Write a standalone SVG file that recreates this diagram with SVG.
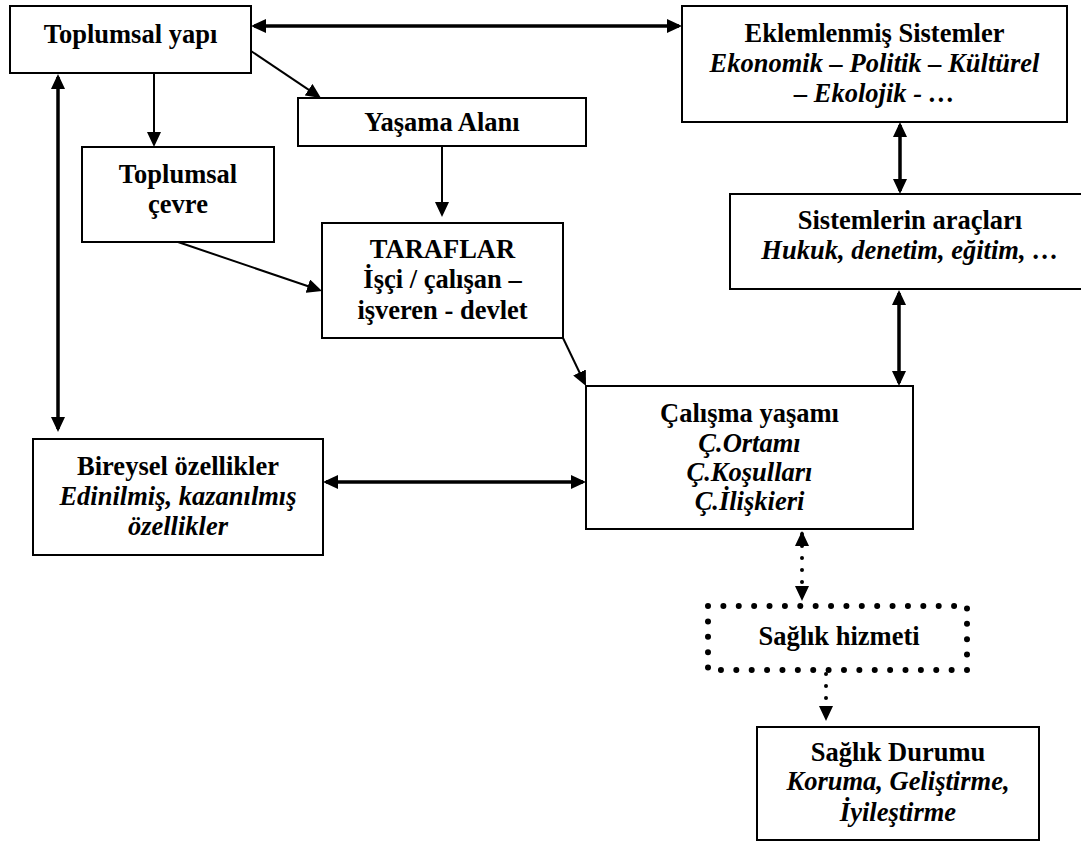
<svg xmlns="http://www.w3.org/2000/svg" width="1081" height="842" viewBox="0 0 1081 842">
<style>
  .box { fill: #ffffff; stroke: #000000; stroke-width: 2; }
  .dotbox { fill: none; stroke: #000000; stroke-width: 6; stroke-linecap: round; stroke-dasharray: 0 15.38; }
  .t { font-family: "Liberation Serif", "Times New Roman", serif; font-weight: bold; font-size: 26.5px; text-anchor: middle; fill: #000000; }
  .i { font-style: italic; }
  .thin { fill: none; stroke: #000000; stroke-width: 2; }
  .thick { fill: none; stroke: #000000; stroke-width: 3.5; }
  .dot { fill: none; stroke: #000000; stroke-width: 4; stroke-linecap: round; stroke-dasharray: 0 12; }
</style>
<defs>
  <marker id="ah" viewBox="0 0 15 14" markerWidth="15" markerHeight="14" refX="12" refY="7" markerUnits="userSpaceOnUse" orient="auto-start-reverse">
    <path d="M0,0 L15,7 L0,14 z" fill="#000000"/>
  </marker>
</defs>
<rect x="0" y="0" width="1081" height="842" fill="#ffffff"/>

<g id="connectors">
  <line class="thick" x1="254" y1="26" x2="679" y2="26" marker-start="url(#ah)" marker-end="url(#ah)"/>
  <line class="thin" x1="154" y1="73" x2="154" y2="144" marker-end="url(#ah)"/>
  <line class="thin" x1="251" y1="51" x2="318.5" y2="96.4" marker-end="url(#ah)"/>
  <line class="thick" x1="58" y1="77" x2="58" y2="429" marker-start="url(#ah)" marker-end="url(#ah)"/>
  <line class="thin" x1="442" y1="146" x2="442" y2="214" marker-end="url(#ah)"/>
  <line class="thin" x1="178" y1="242" x2="319.2" y2="290" marker-end="url(#ah)"/>
  <line class="thin" x1="563" y1="338" x2="584.7" y2="383.3" marker-end="url(#ah)"/>
  <line class="thick" x1="326" y1="482" x2="583" y2="482" marker-start="url(#ah)" marker-end="url(#ah)"/>
  <line class="thick" x1="900" y1="125" x2="900" y2="191" marker-start="url(#ah)" marker-end="url(#ah)"/>
  <line class="thick" x1="899" y1="293" x2="899" y2="383" marker-start="url(#ah)" marker-end="url(#ah)"/>
  <line class="dot" x1="802" y1="534" x2="802" y2="598" marker-start="url(#ah)" marker-end="url(#ah)"/>
  <line class="dot" x1="826" y1="674" x2="826" y2="718" marker-end="url(#ah)"/>
</g>

<g id="toplumsal-yapi">
  <rect class="box" x="10" y="6" width="241" height="67"/>
  <text class="t" x="130.5" y="43">Toplumsal yapı</text>
</g>

<g id="eklemlenmis-sistemler">
  <rect class="box" x="682" y="6" width="385" height="116"/>
  <text class="t" x="874.5" y="42">Eklemlenmiş Sistemler</text>
  <text class="t i" x="874.5" y="72">Ekonomik – Politik – Kültürel</text>
  <text class="t i" x="874.5" y="102">– Ekolojik - …</text>
</g>

<g id="yasama-alani">
  <rect class="box" x="298" y="98" width="288" height="48"/>
  <text class="t" x="442" y="131">Yaşama Alanı</text>
</g>

<g id="toplumsal-cevre">
  <rect class="box" x="82" y="147" width="192" height="95"/>
  <text class="t" x="178" y="183">Toplumsal</text>
  <text class="t" x="178" y="213">çevre</text>
</g>

<g id="sistemlerin-araclari">
  <rect class="box" x="730" y="194" width="360" height="95"/>
  <text class="t" x="910" y="229">Sistemlerin araçları</text>
  <text class="t i" x="910" y="259">Hukuk, denetim, eğitim, …</text>
</g>

<g id="taraflar">
  <rect class="box" x="322" y="223" width="241" height="115"/>
  <text class="t" x="442.5" y="258">TARAFLAR</text>
  <text class="t" x="442.5" y="288">İşçi / çalışan –</text>
  <text class="t" x="442.5" y="319">işveren - devlet</text>
</g>

<g id="calisma-yasami">
  <rect class="box" x="586" y="386" width="327" height="143"/>
  <text class="t" x="749.5" y="422">Çalışma yaşamı</text>
  <text class="t i" x="749.5" y="452">Ç.Ortamı</text>
  <text class="t i" x="749.5" y="481">Ç.Koşulları</text>
  <text class="t i" x="749.5" y="510">Ç.İlişkieri</text>
</g>

<g id="bireysel-ozellikler">
  <rect class="box" x="33" y="439" width="290" height="116"/>
  <text class="t" x="178" y="475">Bireysel özellikler</text>
  <text class="t i" x="178" y="505">Edinilmiş, kazanılmış</text>
  <text class="t i" x="178" y="535">özellikler</text>
</g>

<g id="saglik-hizmeti">
  <rect class="dotbox" x="708" y="606" width="259" height="64"/>
  <text class="t" x="839" y="645">Sağlık hizmeti</text>
</g>

<g id="saglik-durumu">
  <rect class="box" x="757" y="727" width="282" height="113"/>
  <text class="t" x="898" y="761">Sağlık Durumu</text>
  <text class="t i" x="898" y="790">Koruma, Geliştirme,</text>
  <text class="t i" x="898" y="821">İyileştirme</text>
</g>
</svg>
